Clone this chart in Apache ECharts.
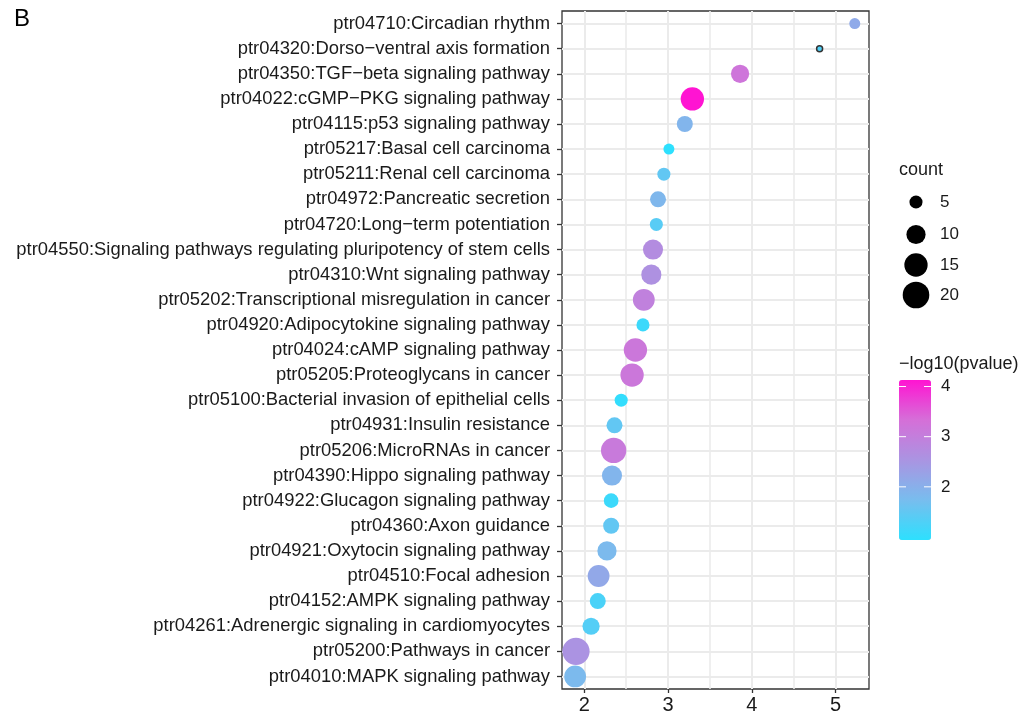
<!DOCTYPE html>
<html>
<head>
<meta charset="utf-8">
<script src="https://cdn.jsdelivr.net/npm/echarts@6/dist/echarts.min.js"></script>
<style>
  html, body { margin: 0; padding: 0; background: #ffffff; }
  #chart { width: 1028px; height: 718px; }
</style>
</head>
<body>
<div id="chart"></div>
<script>
// KEGG pathway enrichment, listed top to bottom
const pathways = [
  'ptr04710:Circadian rhythm',
  'ptr04320:Dorso\u2212ventral axis formation',
  'ptr04350:TGF\u2212beta signaling pathway',
  'ptr04022:cGMP\u2212PKG signaling pathway',
  'ptr04115:p53 signaling pathway',
  'ptr05217:Basal cell carcinoma',
  'ptr05211:Renal cell carcinoma',
  'ptr04972:Pancreatic secretion',
  'ptr04720:Long\u2212term potentiation',
  'ptr04550:Signaling pathways regulating pluripotency of stem cells',
  'ptr04310:Wnt signaling pathway',
  'ptr05202:Transcriptional misregulation in cancer',
  'ptr04920:Adipocytokine signaling pathway',
  'ptr04024:cAMP signaling pathway',
  'ptr05205:Proteoglycans in cancer',
  'ptr05100:Bacterial invasion of epithelial cells',
  'ptr04931:Insulin resistance',
  'ptr05206:MicroRNAs in cancer',
  'ptr04390:Hippo signaling pathway',
  'ptr04922:Glucagon signaling pathway',
  'ptr04360:Axon guidance',
  'ptr04921:Oxytocin signaling pathway',
  'ptr04510:Focal adhesion',
  'ptr04152:AMPK signaling pathway',
  'ptr04261:Adrenergic signaling in cardiomyocytes',
  'ptr05200:Pathways in cancer',
  'ptr04010:MAPK signaling pathway'
];

// x position (enrichment)
const enrichment = [
  5.23, 4.81, 3.86, 3.29, 3.20, 3.01, 2.95, 2.88, 2.86,
  2.82, 2.80, 2.71, 2.70, 2.61, 2.57, 2.44, 2.36, 2.35,
  2.33, 2.32, 2.32, 2.27, 2.17, 2.16, 2.08, 1.90, 1.89
];

// gene count per pathway
const counts = [
  4, 3, 9, 15, 7, 4, 5, 7, 5,
  11, 11, 13, 5, 15, 15, 5, 7, 18,
  11, 6, 7, 10, 13, 7, 8, 21, 13
];

// -log10(pvalue) per pathway
const negLog10P = [
  2.10, 1.30, 3.20, 4.13, 1.90, 0.94, 1.50, 1.85, 1.40,
  2.70, 2.60, 2.95, 1.10, 3.15, 3.15, 1.00, 1.50, 3.10,
  1.90, 1.10, 1.50, 1.80, 2.15, 1.25, 1.35, 2.55, 1.80
];

const xTicks = [2, 3, 4, 5];
const countLegend = [5, 10, 15, 20];
const colorTicks = [2, 3, 4];
const outlinedPathways = ['ptr04320:Dorso\u2212ventral axis formation'];

const FONT = '"Liberation Sans", Arial, Helvetica, sans-serif';
const cMin = Math.min(...counts);
const cMax = Math.max(...counts);
const pMin = Math.min(...negLog10P);
const pMax = Math.max(...negLog10P);

// circle diameter grows with the square root of the rescaled count
function dotSize(c) {
  const t = Math.max(0, (c - cMin) / (cMax - cMin));
  return 6 + 21.2 * Math.sqrt(t);
}

const chart = echarts.init(document.getElementById('chart'), null, { renderer: 'canvas' });

const points = pathways.map((p, i) => {
  const item = { value: [enrichment[i], p, counts[i], negLog10P[i]] };
  if (outlinedPathways.includes(p)) {
    item.itemStyle = { borderColor: '#333333', borderWidth: 1.5 };
  }
  return item;
});

// colour bar geometry
const bar = { left: 899, top: 380, width: 32, height: 160 };
const barY = v => bar.top + bar.height - (v - pMin) / (pMax - pMin) * bar.height;

const graphics = [
  { type: 'text', left: 14, top: 7, style: { text: 'B', font: '24px ' + FONT, fill: '#000' } },
  { type: 'text', x: 899, y: 170, style: { text: 'count', font: '18px ' + FONT, fill: '#1a1a1a', verticalAlign: 'middle' } },
  { type: 'text', x: 899, y: 364, style: { text: '\u2212log10(pvalue)', font: '18px ' + FONT, fill: '#1a1a1a', verticalAlign: 'middle' } }
];
const legendY = [202, 234.5, 265, 295];
countLegend.forEach((c, i) => {
  graphics.push({ type: 'circle', shape: { cx: 916, cy: legendY[i], r: dotSize(c) / 2 }, style: { fill: '#000' } });
  graphics.push({ type: 'text', x: 940, y: legendY[i], style: { text: String(c), font: '17px ' + FONT, fill: '#1a1a1a', verticalAlign: 'middle' } });
});
colorTicks.forEach(v => {
  const y = barY(v);
  graphics.push({ type: 'line', z: 100, shape: { x1: bar.left, y1: y, x2: bar.left + 7, y2: y }, style: { stroke: '#ffffff', lineWidth: 1 } });
  graphics.push({ type: 'line', z: 100, shape: { x1: bar.left + bar.width - 7, y1: y, x2: bar.left + bar.width, y2: y }, style: { stroke: '#ffffff', lineWidth: 1 } });
  graphics.push({ type: 'text', x: 941, y: y, style: { text: String(v), font: '17px ' + FONT, fill: '#1a1a1a', verticalAlign: 'middle' } });
});

const gridLine = { color: '#ebebeb', width: 2 };

chart.setOption({
  backgroundColor: '#ffffff',
  animation: false,
  textStyle: { fontFamily: FONT },
  grid: {
    left: 562, right: 1028 - 869, top: 11, bottom: 718 - 689,
    show: true, borderColor: '#333333', borderWidth: 1.3,
    backgroundColor: '#ffffff',
    outerBoundsMode: 'none'
  },
  xAxis: {
    type: 'value',
    min: 1.733, max: 5.40,
    splitNumber: 4,
    axisLine: { show: false },
    axisTick: { show: true, customValues: xTicks, length: 4, lineStyle: { color: '#333333', width: 1.3 } },
    axisLabel: { customValues: xTicks, fontSize: 20, color: '#1a1a1a', margin: 6, fontFamily: FONT },
    splitLine: { show: true, lineStyle: gridLine },
    minorTick: { show: false, splitNumber: 2 },
    minorSplitLine: { show: true, lineStyle: { color: '#ebebeb', width: 1.6 } }
  },
  yAxis: {
    type: 'category',
    data: pathways,
    inverse: true,
    boundaryGap: true,
    axisLine: { show: false },
    axisTick: { show: true, alignWithLabel: true, interval: 0, length: 5, lineStyle: { color: '#333333', width: 1.3 } },
    axisLabel: { interval: 0, fontSize: 18.4, color: '#1a1a1a', margin: 12, fontFamily: FONT },
    splitLine: { show: true, alignWithLabel: true, interval: 0, lineStyle: gridLine }
  },
  visualMap: {
    type: 'continuous',
    min: pMin, max: pMax,
    dimension: 3,
    seriesIndex: 0,
    orient: 'vertical',
    left: bar.left, top: bar.top,
    itemWidth: bar.width, itemHeight: bar.height,
    padding: 0,
    calculable: false,
    realtime: false,
    text: null,
    showLabel: false,
    inRange: { color: ['#2de0fe', '#78bdee', '#aa94e2', '#d56fd8', '#ff14d2'] }
  },
  graphic: graphics,
  series: [{
    type: 'scatter',
    data: points,
    symbol: 'circle',
    symbolSize: v => dotSize(v[2]),
    itemStyle: { opacity: 1 },
    z: 3
  }]
});
</script>
</body>
</html>
